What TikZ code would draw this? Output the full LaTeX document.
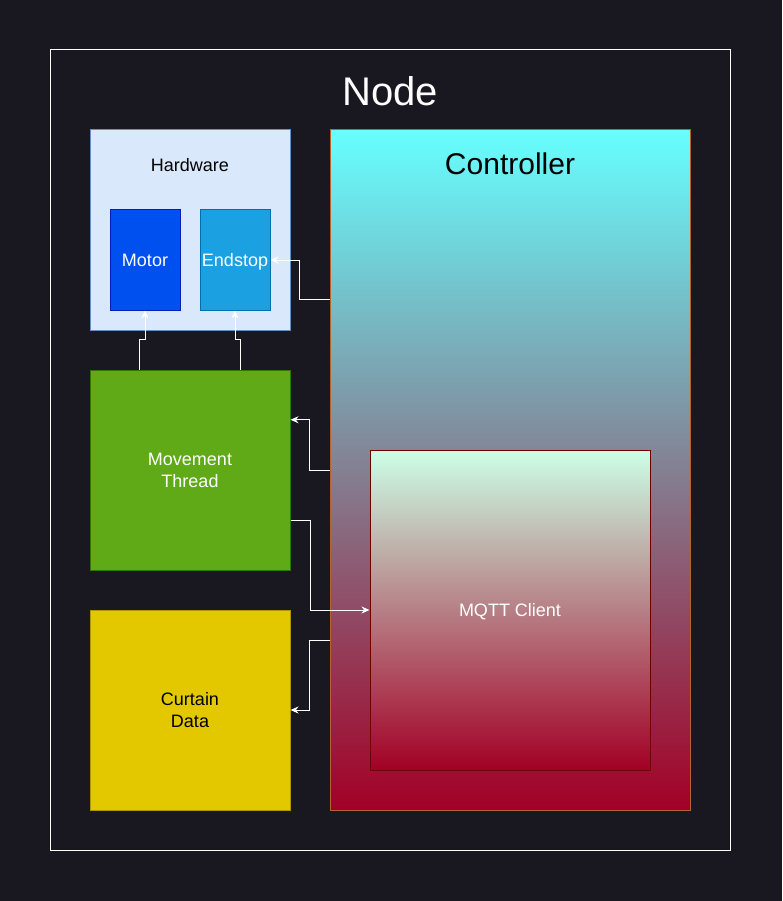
\documentclass[tikz,border=0pt]{standalone}
\usepackage{fontspec}
\setmainfont{Liberation Sans}
\usetikzlibrary{arrows.meta,calc}

\definecolor{bg}{HTML}{19171F}
\definecolor{hwfill}{HTML}{DAE8FC}
\definecolor{hwline}{HTML}{6C8EBF}
\definecolor{motorfill}{HTML}{0050EF}
\definecolor{motorline}{HTML}{001DBC}
\definecolor{endfill}{HTML}{1BA1E2}
\definecolor{endline}{HTML}{006EAF}
\definecolor{mvfill}{HTML}{60A917}
\definecolor{mvline}{HTML}{2D7600}
\definecolor{datafill}{HTML}{E3C800}
\definecolor{dataline}{HTML}{B09500}
\definecolor{ctrltop}{HTML}{66FFFF}
\definecolor{ctrlbottom}{HTML}{A20025}
\definecolor{ctrlline}{HTML}{B5622E}
\definecolor{mqtttop}{HTML}{CCFFE6}
\definecolor{mqttline}{HTML}{6F0000}

\begin{document}
\begin{tikzpicture}[
     x = 1pt,
     y = -1pt,
     font = \fontsize{18}{22}\selectfont
    ]
    \tikzstyle{box}=[draw, line width=1pt, inner sep=0pt, align=center]
    \tikzstyle{wire}=[draw=white, line width=1pt, -{Stealth[length=8pt,width=7pt]}]

    \fill[bg] (0,0) rectangle (782,901);
    \useasboundingbox (0,0) rectangle (782,901);

    \node[box, draw=white, minimum width=680, minimum height=800] (frame) at (390,450) {};
    \node[text=white, font=\fontsize{40}{48}\selectfont] (title) at (390,91) {Node};

    % hardware
    \node[box, fill=hwfill, draw=hwline, minimum width=200, minimum height=200] (hw) at (190,230) {};
    \node[text=black] (hwtitle) at (190,165) {Hardware};
    \node[box, fill=motorfill, draw=motorline, text=white, minimum width=70, minimum height=100] (motor) at (145,260) {Motor};
    \node[box, fill=endfill, draw=endline, text=white, text depth=0pt, minimum width=70, minimum height=100] (endstop) at (235,260) {Endstop};

    \node[box, fill=mvfill, draw=mvline, text=white, minimum width=200, minimum height=200] (movement) at (190,470) {Movement\\Thread};
    \node[box, fill=datafill, draw=dataline, text=black, minimum width=200, minimum height=200] (curtain) at (190,710) {Curtain\\Data};

    % controller
    \node[box, top color=ctrltop, bottom color=ctrlbottom, draw=ctrlline, minimum width=360, minimum height=680] (controller) at (510,470) {};
    \node[text=black, font=\fontsize{30}{36}\selectfont] (ctrltitle) at (510,164) {Controller};
    \node[box, top color=mqtttop, bottom color=ctrlbottom, draw=mqttline, text=white, text depth=0pt, minimum width=280, minimum height=320] (mqtt) at (510,610) {MQTT Client};

    \coordinate (ctrlup) at ($(controller.north west)!0.25!(controller.south west)$);
    \coordinate (ctrldown) at ($(controller.north west)!0.75!(controller.south west)$);
    \coordinate (mvleft) at ($(movement.north west)!0.25!(movement.north east)$);
    \coordinate (mvright) at ($(movement.north west)!0.75!(movement.north east)$);
    \coordinate (mvin) at ($(movement.north east)!0.25!(movement.south east)$);
    \coordinate (mvout) at ($(movement.north east)!0.75!(movement.south east)$);

    \draw[wire] (ctrlup) -- ++(-30,0) |- (endstop.east);
    \draw[wire] (mvleft) -- ++(0,-30) -| (motor.south);
    \draw[wire] (mvright) -- ++(0,-30) -| (endstop.south);
    \draw[wire] (controller.west) -- ++(-20,0) |- (mvin);
    \draw[wire] (mvout) -- ++(20,0) |- (mqtt.west);
    \draw[wire] (ctrldown) -- ++(-20,0) |- (curtain.east);
   \end{tikzpicture}
\end{document}
